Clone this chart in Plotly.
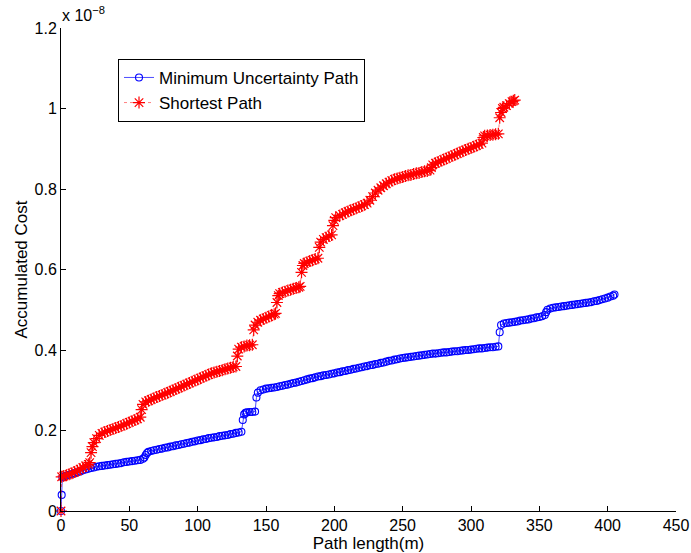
import plotly.graph_objects as go

# Path length (m) and accumulated cost (in units of 1e-8)
min_unc_x = [0, 0.5, 1, 2, 4, 6, 8, 10, 12, 14, 16, 18, 20, 22, 24, 26, 28, 30, 32, 34, 36, 38, 40,
             42, 44, 46, 48, 50, 52, 54, 56, 58, 60, 61, 62, 63, 64, 66, 68, 70, 72, 74, 76, 78, 80,
             82, 84, 86, 88, 90, 92, 94, 96, 98, 100, 102, 104, 106, 108, 110, 112, 114, 116, 118, 120,
             122, 124, 126, 128, 130, 132, 133, 134, 135, 136, 138, 140, 142, 143, 144, 146, 148, 150,
             152, 154, 156, 158, 160, 162, 164, 166, 168, 170, 172, 174, 176, 178, 180, 182, 184, 186,
             188, 190, 192, 194, 196, 198, 200, 202, 204, 206, 208, 210, 212, 214, 216, 218, 220, 222,
             224, 226, 228, 230, 232, 234, 236, 238, 240, 242, 244, 246, 248, 250, 252, 254, 256, 258,
             260, 262, 264, 266, 268, 270, 272, 274, 276, 278, 280, 282, 284, 286, 288, 290, 292, 294,
             296, 298, 300, 302, 304, 306, 308, 310, 312, 314, 316, 318, 320, 321, 322, 324, 326, 328,
             330, 332, 334, 336, 338, 340, 342, 344, 346, 348, 350, 352, 354, 355, 356, 358, 360, 362,
             364, 366, 368, 370, 372, 374, 376, 378, 380, 382, 384, 386, 388, 390, 392, 394, 396, 398,
             400, 402, 404, 405]
min_unc_cost = [0, 0.040, 0.084, 0.086, 0.088, 0.090, 0.092, 0.094, 0.096, 0.098, 0.101, 0.103, 0.105,
                0.107, 0.108, 0.110, 0.111, 0.112, 0.113, 0.114, 0.115, 0.116, 0.117, 0.118, 0.119,
                0.121, 0.122, 0.123, 0.124, 0.125, 0.126, 0.127, 0.130, 0.133, 0.139, 0.144, 0.147,
                0.149, 0.151, 0.152, 0.154, 0.155, 0.157, 0.158, 0.160, 0.161, 0.163, 0.164, 0.166,
                0.167, 0.169, 0.170, 0.172, 0.173, 0.175, 0.176, 0.178, 0.179, 0.181, 0.182, 0.183,
                0.184, 0.186, 0.187, 0.188, 0.189, 0.191, 0.192, 0.194, 0.195, 0.197, 0.226, 0.240,
                0.244, 0.245, 0.246, 0.246, 0.247, 0.282, 0.294, 0.300, 0.302, 0.304, 0.305, 0.306,
                0.307, 0.308, 0.310, 0.311, 0.313, 0.314, 0.316, 0.318, 0.319, 0.321, 0.323, 0.325,
                0.327, 0.329, 0.330, 0.332, 0.334, 0.335, 0.337, 0.338, 0.339, 0.341, 0.342, 0.344,
                0.345, 0.347, 0.348, 0.350, 0.351, 0.353, 0.354, 0.356, 0.357, 0.359, 0.360, 0.362,
                0.363, 0.365, 0.366, 0.368, 0.369, 0.371, 0.373, 0.374, 0.376, 0.377, 0.379, 0.380,
                0.381, 0.382, 0.383, 0.384, 0.385, 0.386, 0.387, 0.388, 0.389, 0.390, 0.391, 0.391,
                0.392, 0.393, 0.394, 0.394, 0.395, 0.396, 0.397, 0.397, 0.398, 0.399, 0.400, 0.400,
                0.401, 0.402, 0.403, 0.404, 0.404, 0.405, 0.406, 0.407, 0.407, 0.408, 0.409, 0.444,
                0.462, 0.466, 0.467, 0.468, 0.469, 0.470, 0.471, 0.473, 0.474, 0.475, 0.476, 0.478,
                0.479, 0.481, 0.482, 0.484, 0.487, 0.494, 0.500, 0.503, 0.505, 0.506, 0.507, 0.508,
                0.509, 0.510, 0.511, 0.512, 0.513, 0.514, 0.515, 0.516, 0.517, 0.518, 0.519, 0.521,
                0.522, 0.524, 0.526, 0.528, 0.530, 0.533, 0.535, 0.538]

shortest_x = [0, 0.5, 2, 4, 6, 8, 10, 12, 14, 16, 18, 20, 21, 22, 23, 24, 26, 28, 30, 32, 34, 36, 38,
              40, 42, 44, 46, 48, 50, 52, 54, 56, 58, 59, 60, 62, 64, 66, 68, 70, 72, 74, 76, 78, 80,
              82, 84, 86, 88, 90, 92, 94, 96, 98, 100, 102, 104, 106, 108, 110, 112, 114, 116, 118,
              120, 122, 124, 126, 128, 129, 130, 132, 134, 136, 138, 140, 141, 142, 144, 146, 148, 150,
              152, 154, 156, 157, 158, 159, 160, 162, 164, 166, 168, 170, 172, 174, 175, 176, 177, 178,
              180, 182, 184, 186, 188, 189, 190, 192, 194, 196, 198, 199, 200, 201, 204, 206, 208, 210,
              212, 214, 216, 218, 220, 222, 224, 226, 228, 230, 232, 234, 236, 238, 240, 242, 244, 246,
              248, 250, 252, 254, 256, 258, 260, 262, 264, 266, 268, 270, 271, 272, 274, 276, 278, 280,
              282, 284, 286, 288, 290, 292, 294, 296, 298, 300, 302, 304, 306, 308, 309, 310, 312, 314,
              316, 318, 320, 321, 322, 323, 324, 326, 328, 330, 331, 332]
shortest_cost = [0, 0.085, 0.087, 0.089, 0.091, 0.094, 0.097, 0.100, 0.104, 0.108, 0.112, 0.116, 0.120,
                 0.145, 0.160, 0.170, 0.180, 0.188, 0.193, 0.196, 0.199, 0.201, 0.204, 0.206, 0.209,
                 0.211, 0.214, 0.217, 0.220, 0.223, 0.226, 0.229, 0.233, 0.252, 0.265, 0.271, 0.274,
                 0.277, 0.280, 0.283, 0.286, 0.288, 0.291, 0.294, 0.297, 0.300, 0.303, 0.306, 0.309,
                 0.312, 0.315, 0.318, 0.321, 0.324, 0.327, 0.330, 0.333, 0.336, 0.339, 0.342, 0.344,
                 0.346, 0.348, 0.350, 0.352, 0.354, 0.356, 0.358, 0.359, 0.385, 0.402, 0.407, 0.409,
                 0.411, 0.412, 0.413, 0.450, 0.462, 0.469, 0.474, 0.477, 0.480, 0.483, 0.486, 0.489,
                 0.491, 0.518, 0.535, 0.540, 0.543, 0.545, 0.548, 0.550, 0.552, 0.554, 0.556, 0.558,
                 0.593, 0.610, 0.615, 0.618, 0.621, 0.623, 0.626, 0.628, 0.655, 0.668, 0.675, 0.679,
                 0.683, 0.686, 0.709, 0.722, 0.729, 0.734, 0.737, 0.741, 0.744, 0.747, 0.750, 0.752,
                 0.755, 0.758, 0.761, 0.765, 0.772, 0.781, 0.790, 0.797, 0.803, 0.808, 0.813, 0.817,
                 0.821, 0.824, 0.826, 0.828, 0.830, 0.832, 0.834, 0.835, 0.837, 0.839, 0.840, 0.842,
                 0.844, 0.845, 0.847, 0.853, 0.860, 0.864, 0.867, 0.870, 0.873, 0.876, 0.879, 0.882,
                 0.885, 0.888, 0.891, 0.894, 0.897, 0.900, 0.902, 0.905, 0.908, 0.911, 0.914, 0.928,
                 0.932, 0.933, 0.934, 0.935, 0.936, 0.937, 0.977, 0.990, 1.000, 1.003, 1.007, 1.012,
                 1.017, 1.019, 1.021]

x_ticks = [0, 50, 100, 150, 200, 250, 300, 350, 400, 450]
y_ticks = [0, 0.2, 0.4, 0.6, 0.8, 1, 1.2]
y_tick_text = ["0", "0.2", "0.4", "0.6", "0.8", "1", "1.2"]

FONT = "Liberation Sans, Arial, Helvetica, sans-serif"

fig = go.Figure()
fig.add_trace(go.Scatter(
    x=min_unc_x, y=min_unc_cost, mode="lines+markers",
    name="Minimum Uncertainty Path",
    line=dict(color="#0000ff", width=0.7),
    marker=dict(symbol="circle-open", size=7, color="#0000ff", line=dict(width=1.1, color="#0000ff")),
    cliponaxis=False,
))
fig.add_trace(go.Scatter(
    x=shortest_x, y=shortest_cost, mode="lines+markers",
    name="Shortest Path",
    line=dict(color="#ff0000", width=0.5, dash="dot"),
    marker=dict(symbol="asterisk-open", size=10, color="#ff0000", line=dict(width=1.2, color="#ff0000")),
    cliponaxis=False,
))

fig.update_layout(
    width=691, height=553,
    margin=dict(l=61, r=15, t=28, b=42),
    paper_bgcolor="white", plot_bgcolor="white",
    font=dict(family=FONT, size=16, color="#000000"),
    showlegend=True,
    legend=dict(
        x=0.0927, y=0.936, xanchor="left", yanchor="top",
        bordercolor="#000000", borderwidth=1, bgcolor="white",
        font=dict(family=FONT, size=17, color="#000000"),
        tracegroupgap=0, itemwidth=30,
    ),
    xaxis=dict(
        range=[0, 450], tickvals=x_ticks, ticktext=[str(v) for v in x_ticks],
        ticks="inside", ticklen=5, tickcolor="#000000", tickwidth=1,
        showline=True, linecolor="#000000", linewidth=1, mirror=False,
        showgrid=False, zeroline=False,
        title=dict(text="Path length(m)", font=dict(size=17), standoff=1),
        automargin=False,
        tickfont=dict(size=16),
    ),
    yaxis=dict(
        range=[0, 1.2], tickvals=y_ticks, ticktext=y_tick_text,
        ticks="inside", ticklen=5, tickcolor="#000000", tickwidth=1,
        showline=True, linecolor="#000000", linewidth=1, mirror=False,
        showgrid=False, zeroline=False,
        title=dict(text="Accumulated Cost", font=dict(size=17), standoff=2),
        automargin=False,
        tickfont=dict(size=16),
    ),
)

fig.add_annotation(
    xref="paper", yref="paper", x=0, y=1, xanchor="left", yanchor="bottom",
    text="x 10<sup>−8</sup>", showarrow=False, xshift=-1, yshift=2,
    font=dict(family=FONT, size=16, color="#000000"),
)

fig.write_html("out.html")
